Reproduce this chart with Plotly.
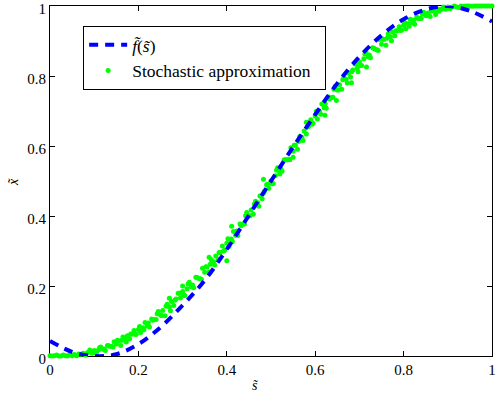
import plotly.graph_objects as go

# ---- data: f(s) curve (blue dashed) ----
blue_s = [0.00, 0.05, 0.10, 0.15, 0.20, 0.25, 0.30, 0.35, 0.40, 0.45, 0.50,
          0.55, 0.60, 0.65, 0.70, 0.75, 0.80, 0.85, 0.90, 0.95, 1.00]
blue_x = [0.043, 0.012, 0.000, 0.005, 0.034, 0.082, 0.145, 0.216, 0.305, 0.402, 0.500,
          0.597, 0.690, 0.779, 0.855, 0.916, 0.962, 0.990, 1.000, 0.986, 0.956]

# ---- data: stochastic approximation (green dots) ----
green_s_main = [
    0.000, 0.005, 0.010, 0.015, 0.020, 0.025, 0.030, 0.035, 0.040, 0.045,
    0.050, 0.055, 0.060, 0.065, 0.070, 0.075, 0.080, 0.085, 0.090, 0.095,
    0.100, 0.105, 0.110, 0.115, 0.120, 0.125, 0.130, 0.135, 0.140, 0.145,
    0.150, 0.155, 0.160, 0.165, 0.170, 0.175, 0.180, 0.185, 0.190, 0.195,
    0.200, 0.205, 0.210, 0.215, 0.220, 0.225, 0.230, 0.235, 0.240, 0.245,
    0.250, 0.255, 0.260, 0.265, 0.270, 0.275, 0.280, 0.285, 0.290, 0.295,
    0.300, 0.305, 0.310, 0.315, 0.320, 0.325, 0.330, 0.335, 0.340, 0.345,
    0.350, 0.355, 0.360, 0.365, 0.370, 0.375, 0.380, 0.385, 0.390, 0.395,
    0.400, 0.405, 0.410, 0.415, 0.420, 0.425, 0.430, 0.435, 0.440, 0.445,
    0.450, 0.455, 0.460, 0.465, 0.470, 0.475, 0.480, 0.485, 0.490, 0.495,
    0.500, 0.505, 0.510, 0.515, 0.520, 0.525, 0.530, 0.535, 0.540, 0.545,
    0.550, 0.555, 0.560, 0.565, 0.570, 0.575, 0.580, 0.585, 0.590, 0.595,
    0.600, 0.605, 0.610, 0.615, 0.620, 0.625, 0.630, 0.635, 0.640, 0.645,
    0.650, 0.655, 0.660, 0.665, 0.670, 0.675, 0.680, 0.685, 0.690, 0.695,
    0.700, 0.705, 0.710, 0.715, 0.720, 0.725, 0.730, 0.735, 0.740, 0.745,
    0.750, 0.755, 0.760, 0.765, 0.770, 0.775, 0.780, 0.785, 0.790, 0.795,
    0.800, 0.805, 0.810, 0.815, 0.820, 0.825, 0.830, 0.835, 0.840, 0.845,
    0.850, 0.855, 0.860, 0.865, 0.870, 0.875, 0.880, 0.885, 0.890, 0.895,
    0.900, 0.905, 0.910, 0.915, 0.920, 0.925, 0.930, 0.935, 0.940, 0.945,
    0.950, 0.955, 0.960, 0.965, 0.970, 0.975, 0.980, 0.985, 0.990, 0.995,
    1.000]
green_x_main = [
    0.001, 0.000, 0.001, 0.003, 0.000, 0.000, 0.003, 0.001, 0.000, 0.005,
    0.001, 0.004, 0.001, 0.006, 0.005, 0.008, 0.003, 0.010, 0.017, 0.008,
    0.016, 0.009, 0.018, 0.026, 0.019, 0.016, 0.030, 0.028, 0.027, 0.041,
    0.034, 0.043, 0.030, 0.054, 0.048, 0.058, 0.049, 0.062, 0.073, 0.062,
    0.076, 0.067, 0.081, 0.096, 0.086, 0.083, 0.106, 0.104, 0.104, 0.127,
    0.117, 0.130, 0.115, 0.148, 0.141, 0.156, 0.144, 0.163, 0.179, 0.166,
    0.184, 0.173, 0.192, 0.211, 0.198, 0.195, 0.225, 0.222, 0.221, 0.251,
    0.239, 0.254, 0.240, 0.275, 0.269, 0.286, 0.276, 0.296, 0.314, 0.302,
    0.322, 0.313, 0.334, 0.356, 0.345, 0.344, 0.377, 0.376, 0.377, 0.410,
    0.400, 0.417, 0.405, 0.442, 0.438, 0.457, 0.449, 0.471, 0.489, 0.479,
    0.501, 0.493, 0.515, 0.538, 0.528, 0.528, 0.561, 0.560, 0.562, 0.595,
    0.585, 0.602, 0.591, 0.627, 0.624, 0.643, 0.634, 0.656, 0.675, 0.665,
    0.686, 0.677, 0.698, 0.720, 0.709, 0.708, 0.740, 0.738, 0.739, 0.771,
    0.760, 0.775, 0.762, 0.796, 0.791, 0.808, 0.797, 0.817, 0.834, 0.822,
    0.841, 0.830, 0.849, 0.868, 0.855, 0.852, 0.881, 0.877, 0.875, 0.904,
    0.891, 0.904, 0.888, 0.920, 0.912, 0.926, 0.915, 0.929, 0.941, 0.931,
    0.945, 0.935, 0.949, 0.962, 0.952, 0.948, 0.968, 0.965, 0.964, 0.982,
    0.973, 0.980, 0.970, 0.989, 0.984, 0.992, 0.985, 0.991, 0.997, 0.991,
    0.997, 0.992, 0.997, 1.000, 0.997, 0.996, 1.000, 0.999, 1.000, 1.000,
    1.000, 0.999, 1.000, 1.000, 1.000, 1.000, 1.000, 1.000, 1.000, 1.000,
    1.000]

green_s_fill = [
    0.1025, 0.1125, 0.1225, 0.1325, 0.1425, 0.1525, 0.1625, 0.1725, 0.1825, 0.1925,
    0.2025, 0.2125, 0.2225, 0.2325, 0.2425, 0.2525, 0.2625, 0.2725, 0.2825, 0.2925,
    0.3025, 0.3125, 0.3225, 0.3325, 0.3425, 0.3525, 0.3625, 0.3725, 0.3825, 0.3925,
    0.4025, 0.4125, 0.4225, 0.4325, 0.4425, 0.4525, 0.4625, 0.4725, 0.4825, 0.4925,
    0.5025, 0.5125, 0.5225, 0.5325, 0.5425, 0.5525, 0.5625, 0.5725, 0.5825, 0.5925,
    0.6025, 0.6125, 0.6225, 0.6325, 0.6425, 0.6525, 0.6625, 0.6725, 0.6825, 0.6925,
    0.7025, 0.7125, 0.7225, 0.7325, 0.7425, 0.7525, 0.7625, 0.7725, 0.7825, 0.7925,
    0.8025, 0.8125, 0.8225, 0.8325, 0.8425, 0.8525, 0.8625, 0.8725, 0.8825, 0.8925]
green_x_fill = [
    0.010, 0.024, 0.020, 0.029, 0.026, 0.045, 0.045, 0.040, 0.063, 0.062,
    0.084, 0.075, 0.094, 0.102, 0.121, 0.116, 0.142, 0.129, 0.159, 0.179,
    0.173, 0.206, 0.203, 0.224, 0.219, 0.255, 0.262, 0.260, 0.296, 0.300,
    0.335, 0.327, 0.357, 0.372, 0.401, 0.401, 0.434, 0.428, 0.464, 0.491,
    0.492, 0.531, 0.534, 0.561, 0.561, 0.602, 0.613, 0.616, 0.655, 0.662,
    0.699, 0.691, 0.721, 0.734, 0.762, 0.760, 0.789, 0.780, 0.812, 0.834,
    0.830, 0.863, 0.860, 0.879, 0.873, 0.906, 0.908, 0.901, 0.929, 0.930,
    0.953, 0.942, 0.960, 0.964, 0.977, 0.972, 0.986, 0.976, 0.990, 0.996]

green_s_out = [0.270, 0.300, 0.360, 0.400, 0.411, 0.483, 0.520,
               0.550, 0.580, 0.622, 0.648, 0.682, 0.697, 0.716]
green_x_out = [0.165, 0.200, 0.282, 0.272, 0.371, 0.505, 0.520,
               0.568, 0.668, 0.688, 0.730, 0.781, 0.812, 0.826]

tick_vals = [0, 0.2, 0.4, 0.6, 0.8, 1]
tick_text = ["0", "0.2", "0.4", "0.6", "0.8", "1"]

green_s = green_s_main + green_s_fill + green_s_out
green_x = green_x_main + green_x_fill + green_x_out

SERIF = "Liberation Serif, Times New Roman, serif"

fig = go.Figure()
fig.add_trace(go.Scatter(
    x=green_s, y=green_x, mode="markers",
    marker=dict(color="#00ff00", size=5, line=dict(width=0)),
    name="Stochastic approximation\u00a0\u00a0", cliponaxis=False, legendrank=2))
fig.add_trace(go.Scatter(
    x=blue_s, y=blue_x, mode="lines",
    line=dict(color="#0000ff", width=4, dash="9px,7px", shape="spline", smoothing=1.0),
    name="<i>f\u0303</i>(<i>s\u0303</i>)", legendrank=1))

axis_common = dict(
    range=[0, 1], tickvals=tick_vals, ticktext=tick_text,
    ticks="inside", ticklen=5, tickwidth=1, tickcolor="black",
    showline=True, linecolor="black", linewidth=1, mirror="ticks",
    showgrid=False, zeroline=False, layer="below traces",
    automargin=False, ticklabeloverflow="allow",
    tickfont=dict(family=SERIF, size=15, color="black"),
)

fig.update_layout(
    width=497, height=398,
    margin=dict(l=50, r=5, t=6, b=42, pad=0),
    paper_bgcolor="white", plot_bgcolor="white",
    font=dict(family=SERIF, size=15, color="black"),
    xaxis=axis_common, yaxis=dict(axis_common, ticklabelshift=3),
    showlegend=True,
    legend=dict(x=0.075, y=0.943, xanchor="left", yanchor="top",
                bgcolor="white", bordercolor="black", borderwidth=1,
                font=dict(family=SERIF, size=17.5, color="black"),
                itemwidth=38, tracegroupgap=0),
    annotations=[
        dict(text="<i>s\u0303</i>", xref="paper", yref="paper",
             x=0.464, y=-0.083, showarrow=False, xanchor="center", yanchor="middle",
             font=dict(family=SERIF, size=14, color="black")),
        dict(text="<i>x\u0303</i>", xref="paper", yref="paper",
             x=-0.084, y=0.497, showarrow=False, xanchor="center", yanchor="middle",
             textangle=-90,
             font=dict(family=SERIF, size=14, color="black")),
    ],
)

fig.write_html("out.html", config={"displayModeBar": False},
               post_script="document.body.style.margin='0';document.body.style.padding='0';")
